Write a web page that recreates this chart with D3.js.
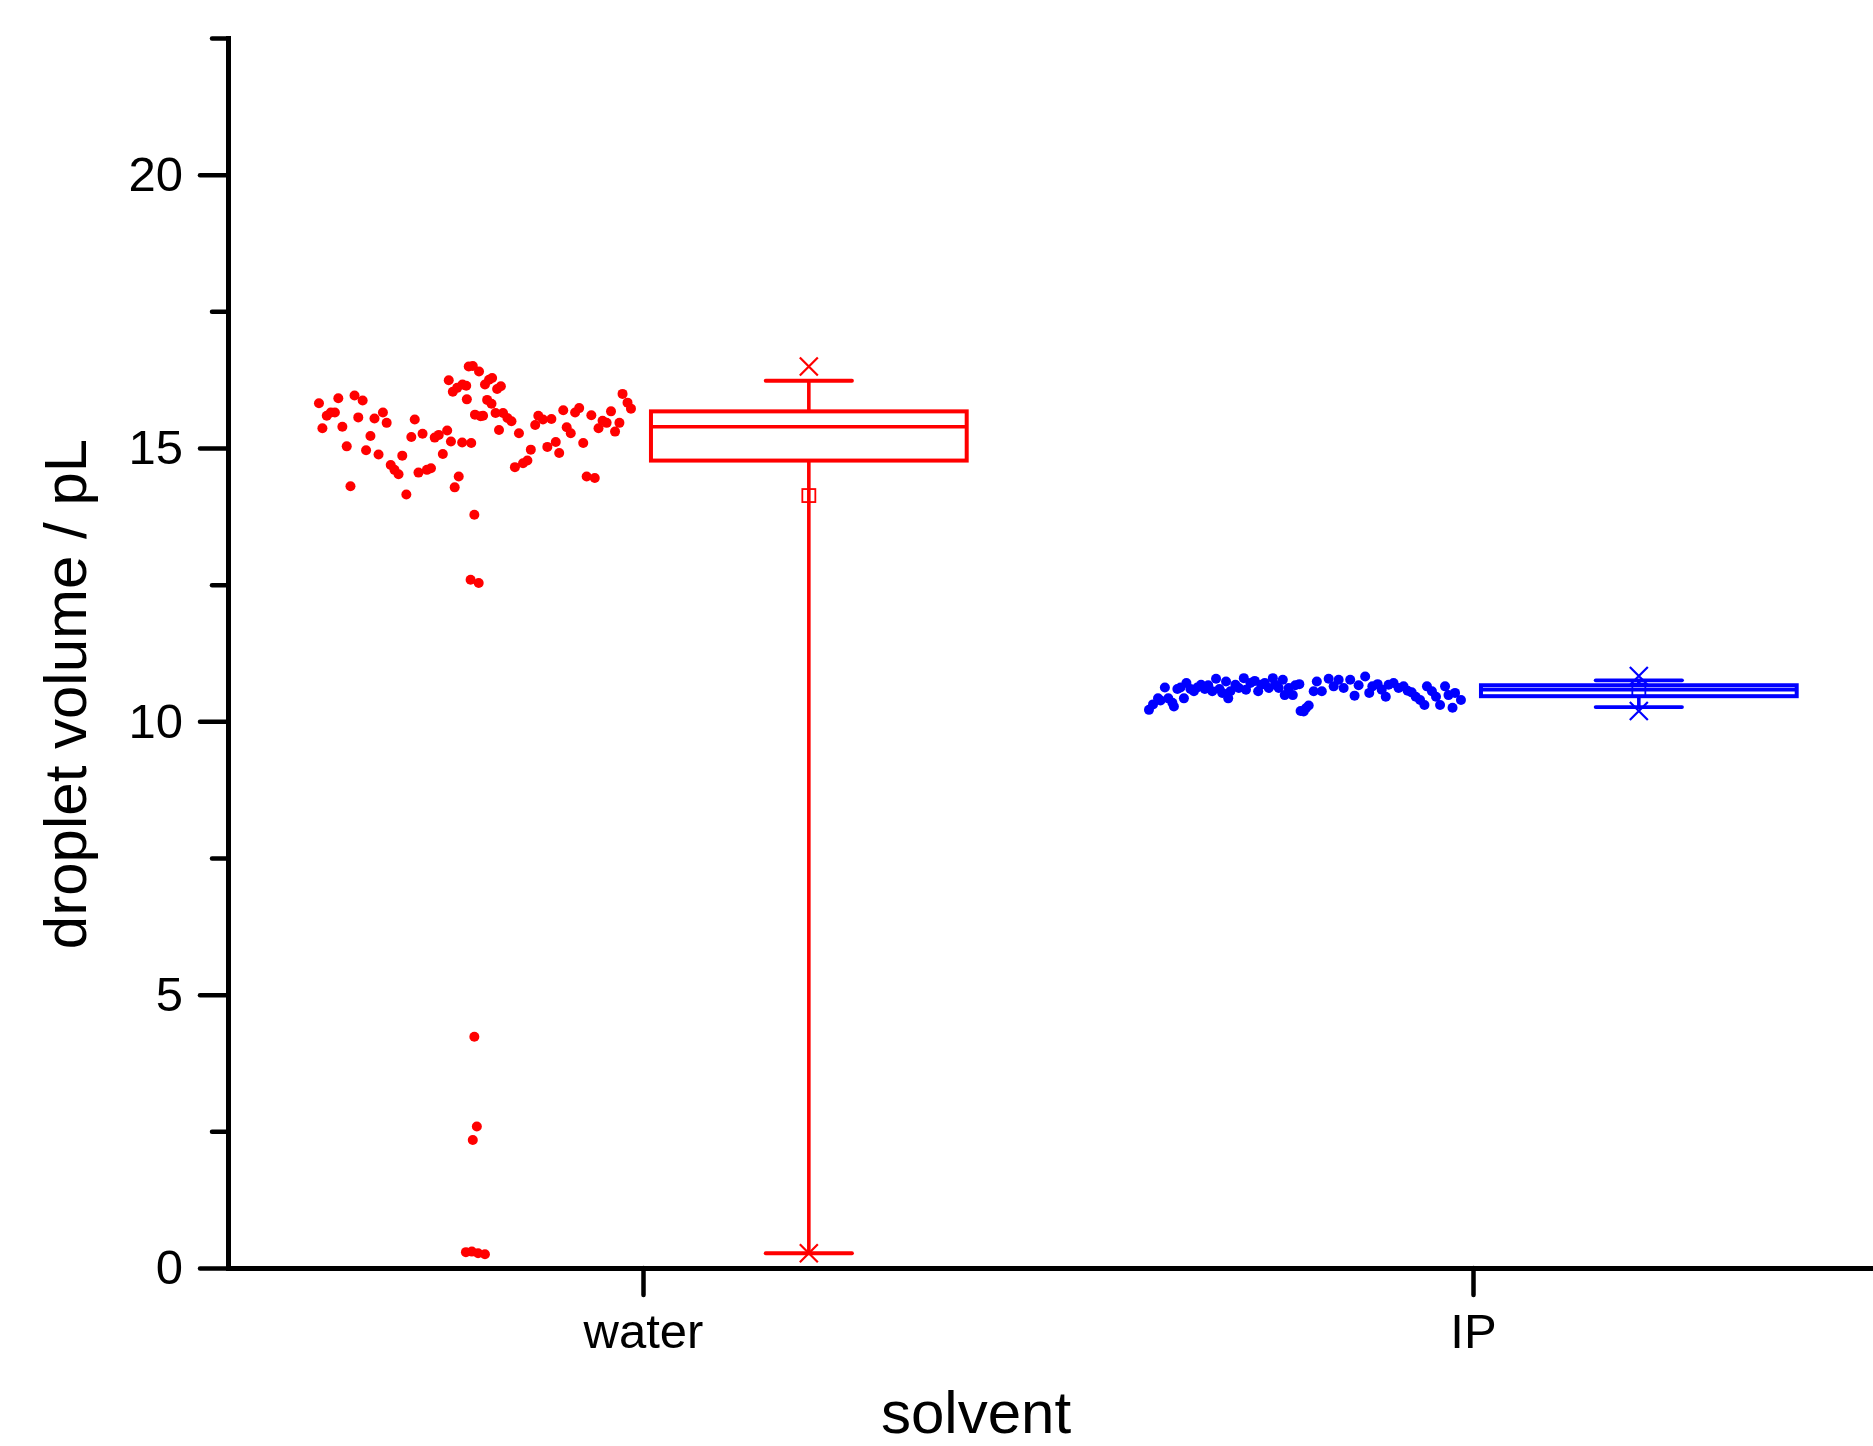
<!DOCTYPE html>
<html>
<head>
<meta charset="utf-8">
<script src="https://cdn.jsdelivr.net/npm/d3@7"></script>
<style>
  html, body { margin: 0; padding: 0; background: #fff; }
  svg { display: block; }
  text { font-family: "Liberation Sans", Arial, sans-serif; fill: #000; }
</style>
</head>
<body>
<svg id="chart" width="1873" height="1446"></svg>
<script>
// ---------------- DATA ----------------
const categories = ["water", "IP"];
const yTicksMajor = [0, 5, 10, 15, 20];
const yTicksMinor = [2.5, 7.5, 12.5, 17.5, 22.5];

// droplet sequence position (0-100 across the group) and volume (pL)
const waterSeq = [0.0,1.1,2.5,3.8,5.1,6.2,7.5,8.9,10.1,11.4,12.6,14.0,15.1,16.5,17.8,19.1,20.5,21.7,23.0,24.2,
  25.5,26.7,28.0,29.6,30.7,31.9,33.2,34.6,35.9,37.1,38.4,39.7,41.1,41.6,42.3,42.9,43.5,44.3,44.8,45.9,
  46.0,47.2,47.4,48.0,48.8,49.3,49.8,48.6,51.2,50.0,51.3,51.8,52.6,53.2,53.9,54.5,55.5,55.3,56.6,57.1,
  57.7,58.3,59.0,60.4,61.7,62.8,64.1,65.4,66.8,67.9,69.3,70.3,71.8,73.2,74.5,75.9,77.0,78.3,79.4,80.7,
  82.1,83.4,84.7,85.8,87.3,88.4,89.6,90.9,92.2,93.6,94.9,96.3,97.3,98.9,100.0,
  49.8,50.6,49.3,47.1,49.0,51.0,53.2];
const waterVol = [15.82,15.36,15.59,15.65,15.65,15.91,15.39,15.03,14.30,15.96,15.56,15.87,14.96,15.22,15.54,14.88,15.65,15.46,14.69,14.60,
  14.52,14.86,14.15,15.20,15.52,14.55,15.26,14.60,14.63,15.19,15.24,14.89,15.32,16.24,15.12,16.03,14.28,16.10,14.48,15.10,
  16.16,16.14,15.89,16.49,15.09,16.50,13.78,12.59,12.53,15.61,16.40,15.58,15.59,16.16,15.88,16.25,16.28,15.81,15.64,16.08,
  15.33,16.13,15.64,15.55,15.49,14.65,15.27,14.72,14.77,14.97,15.42,15.59,15.52,15.02,15.53,15.11,14.91,15.69,15.38,15.27,
  15.65,15.73,15.09,14.48,15.60,14.45,15.36,15.50,15.46,15.67,15.30,15.46,15.99,15.83,15.72,
  4.23,2.59,2.34,0.29,0.30,0.27,0.25];

const ipSeq = [0.0,1.3,2.9,3.7,5.1,6.2,7.5,8.0,9.1,10.1,11.2,12.0,13.3,14.4,15.5,16.7,17.9,19.0,20.3,21.5,
  22.6,23.5,24.7,25.4,26.1,27.7,28.8,30.4,31.1,32.5,33.9,35.0,36.0,37.1,38.4,39.7,40.5,41.6,42.9,43.5,
  44.8,46.1,46.9,48.2,49.6,51.2,52.8,53.8,55.4,57.6,59.2,60.8,62.4,64.5,65.9,67.2,69.3,70.6,71.6,73.3,
  74.6,75.9,76.8,78.4,80.0,81.6,82.9,84.2,85.5,86.9,88.3,89.1,90.7,92.0,93.3,94.9,96.0,97.3,98.1,100.0,
  48.6,50.3];
const ipVol = [10.21,10.31,10.42,10.38,10.62,10.42,10.34,10.27,10.59,10.62,10.42,10.70,10.59,10.55,10.62,10.67,10.59,10.66,10.55,10.78,
  10.59,10.52,10.73,10.42,10.55,10.67,10.61,10.79,10.58,10.70,10.74,10.55,10.67,10.70,10.61,10.79,10.67,10.61,10.76,10.48,
  10.61,10.48,10.66,10.68,10.18,10.29,10.55,10.73,10.55,10.78,10.64,10.76,10.61,10.76,10.47,10.66,10.82,10.52,10.64,10.68,
  10.58,10.45,10.67,10.70,10.61,10.64,10.56,10.53,10.45,10.39,10.30,10.64,10.55,10.45,10.30,10.64,10.48,10.25,10.52,10.39,
  10.19,10.24];

// box statistics: [water, IP]
const statQ1 = [14.77, 10.46];
const statMedian = [15.39, 10.58];
const statQ3 = [15.67, 10.66];
const statWhiskerLo = [0.27, 10.26];
const statWhiskerHi = [16.23, 10.75];
const statMin = [0.27, 10.19];
const statMax = [16.49, 10.83];
const statMean = [14.13, 10.57];

const colors = ["#ff0000", "#0000ff"];

// ---------------- CHART ----------------
const svg = d3.select("#chart");
svg.append("rect").attr("width", 1873).attr("height", 1446).attr("fill", "#fff");

const y = d3.scaleLinear().domain([0, 22.5]).range([1268, 38]);
const x = d3.scaleLinear().domain([0.5, 2.5]).range([228, 1888]);
const seqScale = d3.scaleLinear().domain([0, 100]).range([-0.3904, -0.0145]);

const boxLeft = 0.0096, boxRight = 0.39, boxMid = (boxLeft + boxRight) / 2, capHalf = 0.052;

const groups = [
  { seq: waterSeq, vol: waterVol },
  { seq: ipSeq, vol: ipVol }
];

const plot = svg.append("g");

groups.forEach((g, gi) => {
  const c = gi + 1;
  const col = colors[gi];
  // data points
  plot.append("g").selectAll("circle")
    .data(d3.zip(g.seq, g.vol))
    .join("circle")
    .attr("cx", d => x(c + seqScale(d[0])))
    .attr("cy", d => y(d[1]))
    .attr("r", 5)
    .attr("fill", col);

  const bg = plot.append("g").attr("stroke", col).attr("fill", "none");
  const xm = x(c + boxMid);
  // whiskers
  bg.append("line").attr("x1", xm).attr("x2", xm)
    .attr("y1", y(statQ3[gi])).attr("y2", y(statWhiskerHi[gi])).attr("stroke-width", 3.6);
  bg.append("line").attr("x1", xm).attr("x2", xm)
    .attr("y1", y(statQ1[gi])).attr("y2", y(statWhiskerLo[gi])).attr("stroke-width", 3.6);
  // caps
  [statWhiskerHi[gi], statWhiskerLo[gi]].forEach(v => {
    bg.append("line")
      .attr("x1", x(c + boxMid - capHalf)).attr("x2", x(c + boxMid + capHalf))
      .attr("y1", y(v)).attr("y2", y(v)).attr("stroke-width", 3.8).attr("stroke-linecap", "round");
  });
  // box
  bg.append("rect")
    .attr("x", x(c + boxLeft)).attr("width", x(c + boxRight) - x(c + boxLeft))
    .attr("y", y(statQ3[gi])).attr("height", y(statQ1[gi]) - y(statQ3[gi]))
    .attr("stroke-width", 4);
  bg.append("line")
    .attr("x1", x(c + boxLeft)).attr("x2", x(c + boxRight))
    .attr("y1", y(statMedian[gi])).attr("y2", y(statMedian[gi]))
    .attr("stroke-width", 3.6);
  // mean square
  bg.append("rect")
    .attr("x", xm - 6.5).attr("y", y(statMean[gi]) - 6.5)
    .attr("width", 13).attr("height", 13)
    .attr("stroke-width", 1.8);
  // min / max crosses
  [statMin[gi], statMax[gi]].forEach(v => {
    const cy = y(v), s = 9;
    bg.append("path")
      .attr("d", `M${xm - s},${cy - s}L${xm + s},${cy + s}M${xm - s},${cy + s}L${xm + s},${cy - s}`)
      .attr("stroke-width", 2.2);
  });
});

// ---------------- AXES ----------------
const fontSize = 49;
const yAxisG = svg.append("g").attr("transform", `translate(${x(0.5)},0)`);
yAxisG.call(d3.axisLeft(y).tickValues(yTicksMajor).tickSize(28).tickSizeOuter(0).tickPadding(17)
  .tickFormat(d3.format("d")));
const yMinorG = svg.append("g").attr("transform", `translate(${x(0.5)},0)`);
yMinorG.call(d3.axisLeft(y).tickValues(yTicksMinor).tickSize(16).tickSizeOuter(0).tickFormat(""));

const xAxisG = svg.append("g").attr("transform", `translate(0,${y(0)})`);
xAxisG.call(d3.axisBottom(x).tickValues([1, 2]).tickSize(27).tickSizeOuter(0).tickPadding(18)
  .tickFormat((d, i) => categories[i]));

[yAxisG, yMinorG, xAxisG].forEach(g => {
  g.selectAll(".domain").attr("stroke", "#000").attr("stroke-width", 5);
  g.selectAll(".tick line").attr("stroke", "#000").attr("stroke-width", 4.5).attr("stroke-linecap", "round");
  g.selectAll(".tick text").attr("font-size", fontSize)
    .attr("font-family", "'Liberation Sans', Arial, sans-serif").attr("fill", "#000");
});
yAxisG.select(".domain").attr("stroke-linecap", "square");

// titles
svg.append("text")
  .attr("transform", "translate(86,694) rotate(-90)")
  .attr("text-anchor", "middle")
  .attr("font-size", 60)
  .text("droplet volume / pL");

svg.append("text")
  .attr("x", 976).attr("y", 1433)
  .attr("text-anchor", "middle")
  .attr("font-size", 60)
  .text("solvent");
</script>
</body>
</html>
